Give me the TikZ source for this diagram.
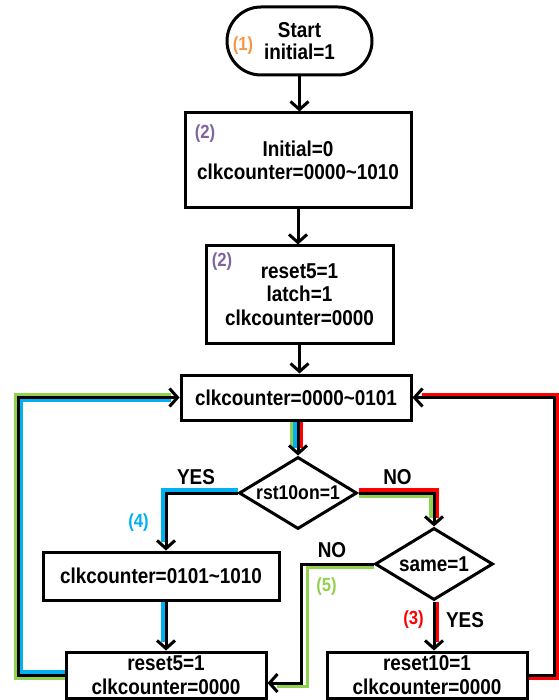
\documentclass[tikz,border=0pt]{standalone}
\usepackage{fontspec}
\setmainfont{Liberation Sans}[FakeStretch=0.88]
\usetikzlibrary{arrows.meta,shapes.geometric,calc,backgrounds}
\definecolor{cOr}{HTML}{F79646}
\definecolor{cPu}{HTML}{8064A2}
\definecolor{cBl}{HTML}{00B0F0}
\definecolor{cGr}{HTML}{92D050}
\definecolor{cRd}{HTML}{FF0000}
\begin{document}
\begin{tikzpicture}[x=1pt,y=-1pt,
  txt/.style={font=\fontsize{21.5}{23.5}\selectfont\bfseries, align=center},
  box/.style={draw, line width=3pt, inner sep=0pt, txt},
  dia/.style={draw, diamond, line width=3pt, inner sep=0pt, minimum width=118pt, minimum height=72pt},
  conn/.style={line width=3pt, -{Straight Barb[length=8pt,width=18pt]}},
  cl/.style={line width=3.4pt},
  lab/.style={font=\fontsize{19}{20}\selectfont\bfseries}
]
\useasboundingbox (0,0) rectangle (558,700);

% nodes
\node[box, rounded corners=34pt, minimum width=145pt, minimum height=68pt, font=\fontsize{21.5}{21.5}\selectfont\bfseries] (start) at (299.5,41) {Start\\initial=1};
\node[box, minimum width=226pt, minimum height=95pt] (b1) at (298,160.5) {Initial=0\\clkcounter=0000\textasciitilde1010};
\node[box, minimum width=187pt, minimum height=97pt] (b2) at (299.5,294.5) {reset5=1\\latch=1\\clkcounter=0000};
\node[box, minimum width=230pt, minimum height=45pt] (b3) at (296,397.5) {clkcounter=0000\textasciitilde0101};
\node[dia, label={[txt,font=\fontsize{20}{20}\selectfont\bfseries]center:rst10on=1}] (d1) at (298,493) {};
\node[dia, label={[txt]center:same=1}] (d2) at (434,564) {};
\node[box, minimum width=236pt, minimum height=48pt] (b4) at (161,576) {clkcounter=0101\textasciitilde1010};
\node[box, minimum width=200pt, minimum height=46pt] (b5) at (166,675) {reset5=1\\clkcounter=0000};
\node[box, minimum width=200pt, minimum height=46pt] (b6) at (427,675) {reset10=1\\clkcounter=0000};

% labels
\node[lab, text=cOr] (l1) at (243,46) {(1)};
\node[lab, text=cPu] (l2a) at (205,134) {(2)};
\node[lab, text=cPu] (l2b) at (222,262) {(2)};
\node[lab, text=cBl] (l4) at (138.5,523) {(4)};
\node[lab, text=cGr] (l5) at (326.5,587) {(5)};
\node[lab, text=cRd] (l3) at (413.5,620) {(3)};
\node[txt] (yes1) at (196,477) {YES};
\node[txt] (no1) at (397.5,477) {NO};
\node[txt] (no2) at (332,550) {NO};
\node[txt] (yes2) at (465,620) {YES};

% black connectors
\draw[conn] (start.south) -- (start.south |- b1.north);
\draw[conn] (b1.south) -- (b1.south |- b2.north);
\draw[conn] (b2.south) -- (b2.south |- b3.north);
\draw[conn] (b3.south -| d1.north) -- (d1.north);
\draw[conn] (d1.west) -| (b5.north |- b4.north);
\draw[conn] (b4.south -| b5.north) -- (b5.north);
\draw[conn] (b5.west) -- ++(-46,0) |- (b3.west);
\draw[conn] (d1.east) -| (d2.north);
\draw[conn] (d2.south) -- (d2.south |- b6.north);
\draw[conn] (d2.west) -- ++(-72,0) |- ($(b5.east)+(0,8)$);
\draw[conn] (b6.east) -- ++(26,0) |- (b3.east);

% coloured path highlights
\begin{pgfonlayer}{background}
\draw[cl,cGr] ($(b3.south -| d1.north)+(-6.4,0)$) -- ($(d1.north)+(-6.4,-8)$);
\draw[cl,cBl] ($(b3.south -| d1.north)+(-3.2,0)$) -- ($(d1.north)+(-3.2,-8)$);
\draw[cl,cRd] ($(b3.south -| d1.north)+(3.2,0)$) -- ($(d1.north)+(3.2,-8)$);
% blue (4)
\draw[cl,cBl] ($(d1.west)+(0,-3.2)$) -| ($(b5.north |- b4.north)+(-3.2,-9)$);
\draw[cl,cBl] ($(b4.south -| b5.north)+(-3.2,0)$) -- ($(b5.north)+(-3.2,-9)$);
\draw[cl,cBl] ($(b5.west)+(0,-3.2)$) -- ++(-42.8,0) |- ($(b3.west)+(-9,3.2)$);
% green (5)
\draw[cl,cGr] ($(b5.west)+(0,3.2)$) -- ++(-49.2,0) |- ($(b3.west)+(-9,-3.2)$);
\draw[cl,cGr] ($(d1.east)+(0,3.2)$) -| ($(d2.north)+(-3.2,-9)$);
\draw[cl,cGr] ($(d2.west)+(0,3.2)$) -| ($(b5.east)+(40.2,11.2)$) -- ($(b5.east)+(9,11.2)$);
% red (3)
\draw[cl,cRd] ($(d1.east)+(0,-3.2)$) -| ($(d2.north)+(3.2,-9)$);
\draw[cl,cRd] ($(d2.south)+(3.2,0)$) -- ($(d2.south |- b6.north)+(3.2,-9)$);
\draw[cl,cRd] ($(b6.east)+(0,3.2)$) -- ++(29.2,0) |- ($(b3.east)+(9,-3.2)$);
\end{pgfonlayer}
\end{tikzpicture}
\end{document}
